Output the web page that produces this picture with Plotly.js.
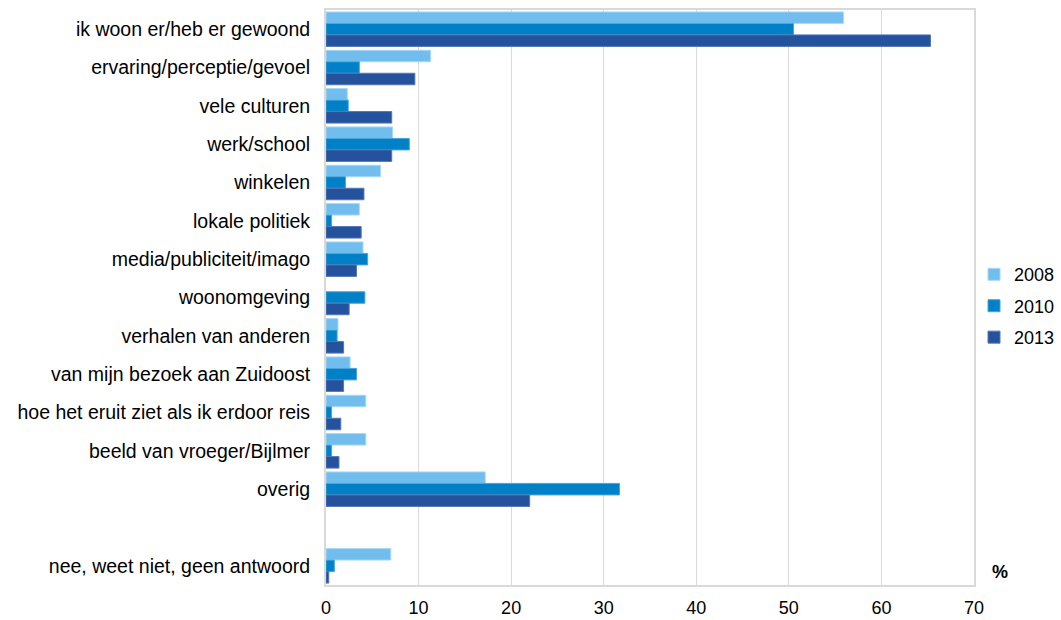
<!DOCTYPE html>
<html>
<head>
<meta charset="utf-8">
<script src="https://cdn.plot.ly/plotly-3.0.1.min.js"></script>
<style>html,body{margin:0;padding:0;background:#fff;}#chart{width:1061px;height:620px;}</style>
</head>
<body>
<div id="chart"></div>
<script>
const categories = [
  "ik woon er/heb er gewoond",
  "ervaring/perceptie/gevoel",
  "vele culturen",
  "werk/school",
  "winkelen",
  "lokale politiek",
  "media/publiciteit/imago",
  "woonomgeving",
  "verhalen van anderen",
  "van mijn bezoek aan Zuidoost",
  "hoe het eruit ziet als ik erdoor reis",
  "beeld van vroeger/Bijlmer",
  "overig",
  " ",
  "nee, weet niet, geen antwoord"
];
const v2008 = [55.9, 11.3, 2.3, 7.2, 5.9, 3.6, 4.0, null, 1.3, 2.6, 4.3, 4.3, 17.2, null, 7.0];
const v2010 = [50.5, 3.6, 2.4, 9.0, 2.1, 0.6, 4.5, 4.2, 1.2, 3.3, 0.6, 0.6, 31.7, null, 0.9];
const v2013 = [65.3, 9.6, 7.1, 7.1, 4.1, 3.8, 3.3, 2.5, 1.9, 1.9, 1.6, 1.4, 22.0, null, 0.3];
const seriesNames = ["2008", "2010", "2013"];
const colors = ["#71bdee", "#0080c6", "#24529c"];
const lineColors = ["#a9d8f5", "#45a6dc", "#5577b5"];
const xTicks = [0, 10, 20, 30, 40, 50, 60, 70];

const allVals = [v2008, v2010, v2013];
const traces = allVals.map((vals, i) => ({
  type: "bar",
  orientation: "h",
  name: seriesNames[i],
  legendgroup: "g" + i,
  y: categories,
  x: vals,
  marker: { color: colors[i], line: { color: lineColors[i], width: 1 } },
  hoverinfo: "x+name"
}));

const layout = {
  width: 1061,
  height: 620,
  margin: { l: 326, r: 87, t: 10, b: 35, autoexpand: false },
  paper_bgcolor: "#ffffff",
  plot_bgcolor: "#ffffff",
  barmode: "group",
  bargap: 0.1,
  bargroupgap: 0,
  font: { family: "Liberation Sans, Arial, sans-serif", size: 19.5, color: "#000" },
  xaxis: {
    range: [0, 70],
    tickvals: xTicks,
    ticktext: xTicks.map(String),
    showgrid: true,
    gridcolor: "#d9d9d9",
    gridwidth: 1,
    zeroline: false,
    showline: true,
    linecolor: "#d9d9d9",
    linewidth: 2,
    mirror: true,
    ticks: "outside",
    ticklen: 5,
    tickcolor: "rgba(0,0,0,0)",
    automargin: false,
    tickfont: { size: 18, color: "#000" }
  },
  yaxis: {
    type: "category",
    categoryorder: "array",
    categoryarray: categories,
    autorange: "reversed",
    showgrid: false,
    zeroline: false,
    showline: true,
    linecolor: "#d9d9d9",
    linewidth: 2,
    mirror: true,
    ticks: "outside",
    ticklen: 10,
    tickcolor: "rgba(0,0,0,0)",
    automargin: false,
    tickfont: { size: 19.5, color: "#000" }
  },
  legend: {
    x: 1.0,
    y: 0.485,
    xanchor: "left",
    yanchor: "middle",
    traceorder: "grouped",
    font: { size: 18, color: "#000" },
    itemwidth: 30,
    tracegroupgap: 5,
    bgcolor: "rgba(0,0,0,0)"
  },
  annotations: [{
    text: "<b>%</b>",
    xref: "paper",
    yref: "paper",
    x: 1.04,
    y: 0.022,
    xanchor: "center",
    yanchor: "middle",
    showarrow: false,
    font: { size: 18, color: "#000" }
  }]
};

Plotly.newPlot("chart", traces, layout, { displayModeBar: false, staticPlot: true });
</script>
</body>
</html>
